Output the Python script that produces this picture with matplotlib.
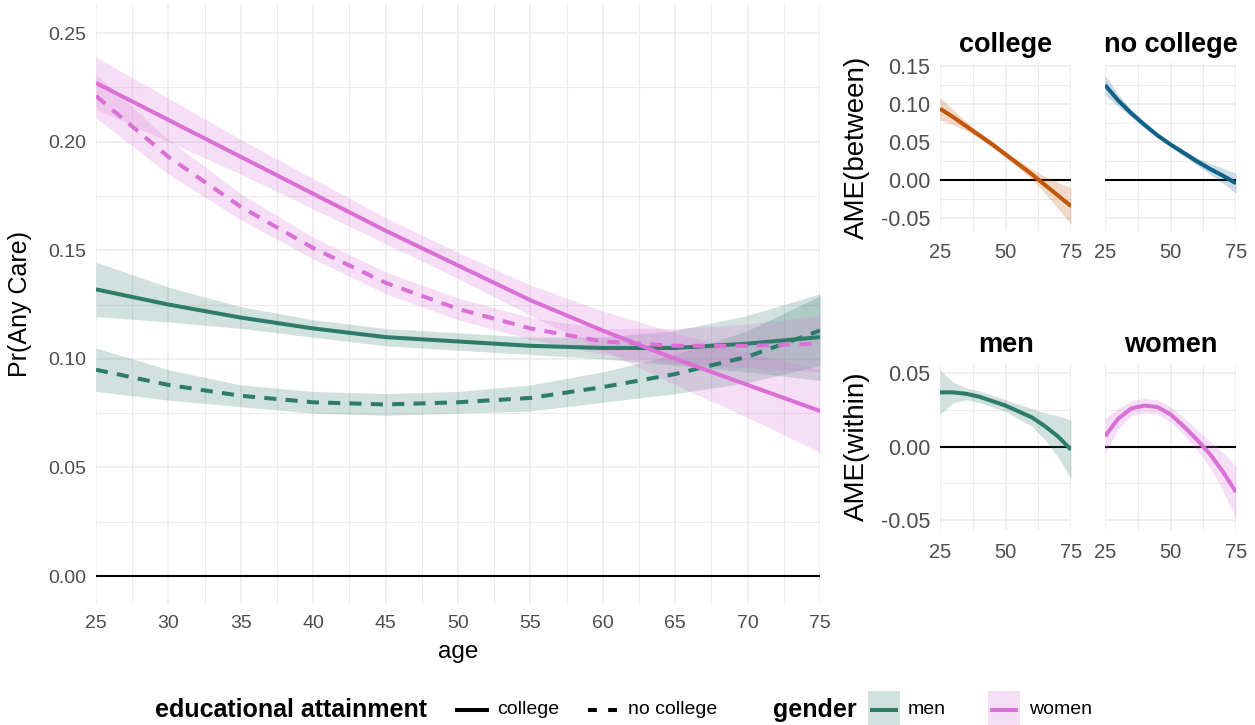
import numpy as np
import matplotlib
matplotlib.use("Agg")
import matplotlib.pyplot as plt
from matplotlib.lines import Line2D
from matplotlib.patches import Rectangle
from matplotlib.ticker import MultipleLocator, FixedLocator

plt.rcParams['font.family'] = ['Liberation Sans', 'DejaVu Sans']

# ---------------- data ----------------
age = [25, 30, 35, 40, 45, 50, 55, 60, 65, 70, 75]

women_college = [0.227, 0.210, 0.193, 0.176, 0.159, 0.143, 0.127, 0.113, 0.100, 0.088, 0.076]
women_college_se = [0.012, 0.010, 0.008, 0.007, 0.006, 0.006, 0.007, 0.009, 0.012, 0.015, 0.019]
women_nocollege = [0.221, 0.193, 0.170, 0.151, 0.135, 0.123, 0.114, 0.108, 0.106, 0.106, 0.107]
women_nocollege_se = [0.010, 0.008, 0.006, 0.005, 0.005, 0.005, 0.005, 0.006, 0.008, 0.010, 0.013]
men_college = [0.132, 0.125, 0.119, 0.114, 0.110, 0.108, 0.106, 0.105, 0.105, 0.107, 0.110]
men_college_se = [0.0125, 0.008, 0.005, 0.004, 0.004, 0.004, 0.004, 0.005, 0.008, 0.013, 0.020]
men_nocollege = [0.095, 0.088, 0.083, 0.080, 0.079, 0.080, 0.082, 0.087, 0.093, 0.101, 0.113]
men_nocollege_se = [0.010, 0.007, 0.005, 0.005, 0.005, 0.005, 0.006, 0.007, 0.009, 0.012, 0.016]

ame_between_college = [0.094, 0.083, 0.071, 0.059, 0.047, 0.034, 0.021, 0.008, -0.006, -0.020, -0.034]
ame_between_college_se = [0.015, 0.010, 0.006, 0.004, 0.004, 0.004, 0.005, 0.007, 0.011, 0.017, 0.024]
ame_between_nocollege = [0.125, 0.105, 0.088, 0.073, 0.059, 0.047, 0.036, 0.025, 0.015, 0.006, -0.004]
ame_between_nocollege_se = [0.013, 0.008, 0.005, 0.004, 0.003, 0.003, 0.004, 0.005, 0.007, 0.010, 0.013]
ame_within_men = [0.037, 0.037, 0.036, 0.034, 0.031, 0.028, 0.024, 0.020, 0.014, 0.007, -0.002]
ame_within_men_se = [0.015, 0.007, 0.004, 0.004, 0.004, 0.004, 0.005, 0.006, 0.009, 0.014, 0.020]
ame_within_women = [0.007, 0.019, 0.026, 0.028, 0.027, 0.022, 0.014, 0.005, -0.005, -0.017, -0.031]
ame_within_women_se = [0.012, 0.007, 0.005, 0.005, 0.005, 0.005, 0.006, 0.007, 0.009, 0.013, 0.018]

main_xticks = [25, 30, 35, 40, 45, 50, 55, 60, 65, 70, 75]
main_yticks = [0.00, 0.05, 0.10, 0.15, 0.20, 0.25]
small_xticks = [25, 50, 75]
between_yticks = [-0.05, 0.00, 0.05, 0.10, 0.15]
within_yticks = [-0.05, 0.00, 0.05]

# ---------------- style ----------------
GREEN = "#2e7b69"
PINK = "#da70d6"
ORANGE = "#c1550a"
BLUE = "#0f6187"
GRID = "#ebebeb"
TICKC = "#4d4d4d"
LW = 2.9
FILL_A = 0.22
W, H = 1255, 725

fig = plt.figure(figsize=(W / 100, H / 100), dpi=100)


def rect(x0, y0, x1, y1):
    return [x0 / W, 1 - y1 / H, (x1 - x0) / W, (y1 - y0) / H]


def style_axes(ax, tick_fs, ytick_fs=None):
    for s in ax.spines.values():
        s.set_visible(False)
    ax.set_facecolor("white")
    ax.grid(True, which="major", color=GRID, lw=1.1, zorder=0)
    ax.grid(True, which="minor", color=GRID, lw=0.8, zorder=0)
    ax.set_axisbelow(True)
    ax.tick_params(which="both", length=0, colors=TICKC)
    ax.tick_params(axis="x", labelsize=tick_fs, pad=9)
    ax.tick_params(axis="y", labelsize=ytick_fs or tick_fs, pad=7)


def ribbon_line(ax, x, y, se, color, dashes=None):
    y = np.asarray(y)
    se = np.asarray(se)
    ax.fill_between(x, y - se, y + se, color=color, alpha=FILL_A, lw=0, zorder=2)
    line, = ax.plot(x, y, color=color, lw=LW, zorder=3, solid_capstyle="butt",
                    solid_joinstyle="round", dash_joinstyle="round")
    if dashes is not None:
        line.set_dashes(dashes)
    return line


# ---------------- main panel ----------------
ax = fig.add_axes(rect(96, 5, 820, 603))
style_axes(ax, 14)
ax.axhline(0, color="black", lw=1.5, zorder=2)
DASH = (3, 2.3)
ribbon_line(ax, age, men_college, men_college_se, GREEN)
ribbon_line(ax, age, men_nocollege, men_nocollege_se, GREEN, dashes=DASH)
ribbon_line(ax, age, women_college, women_college_se, PINK)
ribbon_line(ax, age, women_nocollege, women_nocollege_se, PINK, dashes=DASH)
ax.set_xlim(25, 75)
ax.set_ylim(-0.0124, 0.2629)
ax.xaxis.set_major_locator(FixedLocator(main_xticks))
ax.xaxis.set_minor_locator(MultipleLocator(2.5))
ax.set_yticks(main_yticks)
ax.set_yticklabels([f"{v:.2f}" for v in main_yticks])
ax.yaxis.set_minor_locator(MultipleLocator(0.025))
ax.set_xlabel("age", fontsize=17.5, labelpad=6)
ax.set_ylabel("Pr(Any Care)", fontsize=18, labelpad=12)

# ---------------- small panels ----------------
panels = [
    (rect(940, 63, 1071, 231), ame_between_college, ame_between_college_se, ORANGE, "college", True, between_yticks, (-0.0667, 0.154), "AME(between)"),
    (rect(1105, 63, 1236, 231), ame_between_nocollege, ame_between_nocollege_se, BLUE, "no college", False, between_yticks, (-0.0667, 0.154), None),
    (rect(940, 363, 1071, 530), ame_within_men, ame_within_men_se, GREEN, "men", True, within_yticks, (-0.0568, 0.057), "AME(within)"),
    (rect(1105, 363, 1236, 530), ame_within_women, ame_within_women_se, PINK, "women", False, within_yticks, (-0.0568, 0.057), None),
]
for r, y, se, col, title, show_y, yt, ylim, ylab in panels:
    a = fig.add_axes(r)
    style_axes(a, 14.5, 15.5)
    a.axhline(0, color="black", lw=1.5, zorder=2)
    ribbon_line(a, age, y, se, col)
    a.set_xlim(25, 75)
    a.set_ylim(*ylim)
    a.xaxis.set_major_locator(FixedLocator(small_xticks))
    a.xaxis.set_minor_locator(MultipleLocator(12.5))
    a.set_yticks(yt)
    a.yaxis.set_minor_locator(MultipleLocator(0.025))
    if show_y:
        a.set_yticklabels([f"{v:.2f}" for v in yt])
        a.set_ylabel(ylab, fontsize=20, labelpad=8)
    else:
        a.set_yticklabels([])
    a.set_title(title, fontsize=19.5, fontweight="bold", pad=8)

# ---------------- legend (bottom) ----------------
ly = 1 - 710 / H
fig.text(155 / W, ly, "educational attainment", fontsize=18, fontweight="bold",
         va="center", ha="left")
fig.add_artist(Line2D([455 / W, 489 / W], [ly, ly], color="black", lw=LW,
                      transform=fig.transFigure, solid_capstyle="butt"))
fig.text(497 / W, ly, "college", fontsize=14, va="center", ha="left")
dl = Line2D([588 / W, 622 / W], [ly, ly], color="black", lw=LW,
            transform=fig.transFigure)
dl.set_dashes((2.2, 2.8))
fig.add_artist(dl)
fig.text(628 / W, ly, "no college", fontsize=14, va="center", ha="left")

fig.text(773 / W, ly, "gender", fontsize=18, fontweight="bold", va="center", ha="left")
for x0, col, lab, tx in [(868, GREEN, "men", 908), (988, PINK, "women", 1029)]:
    fig.add_artist(Rectangle((x0 / W, 1 - 729 / H), 32 / W, 38 / H, color=col,
                             alpha=FILL_A, lw=0, transform=fig.transFigure))
    fig.add_artist(Line2D([(x0 + 2) / W, (x0 + 30) / W], [ly, ly], color=col, lw=LW,
                          transform=fig.transFigure, solid_capstyle="butt"))
    fig.text(tx / W, ly, lab, fontsize=14, va="center", ha="left")

fig.savefig("out.png", dpi=100, facecolor="white")
